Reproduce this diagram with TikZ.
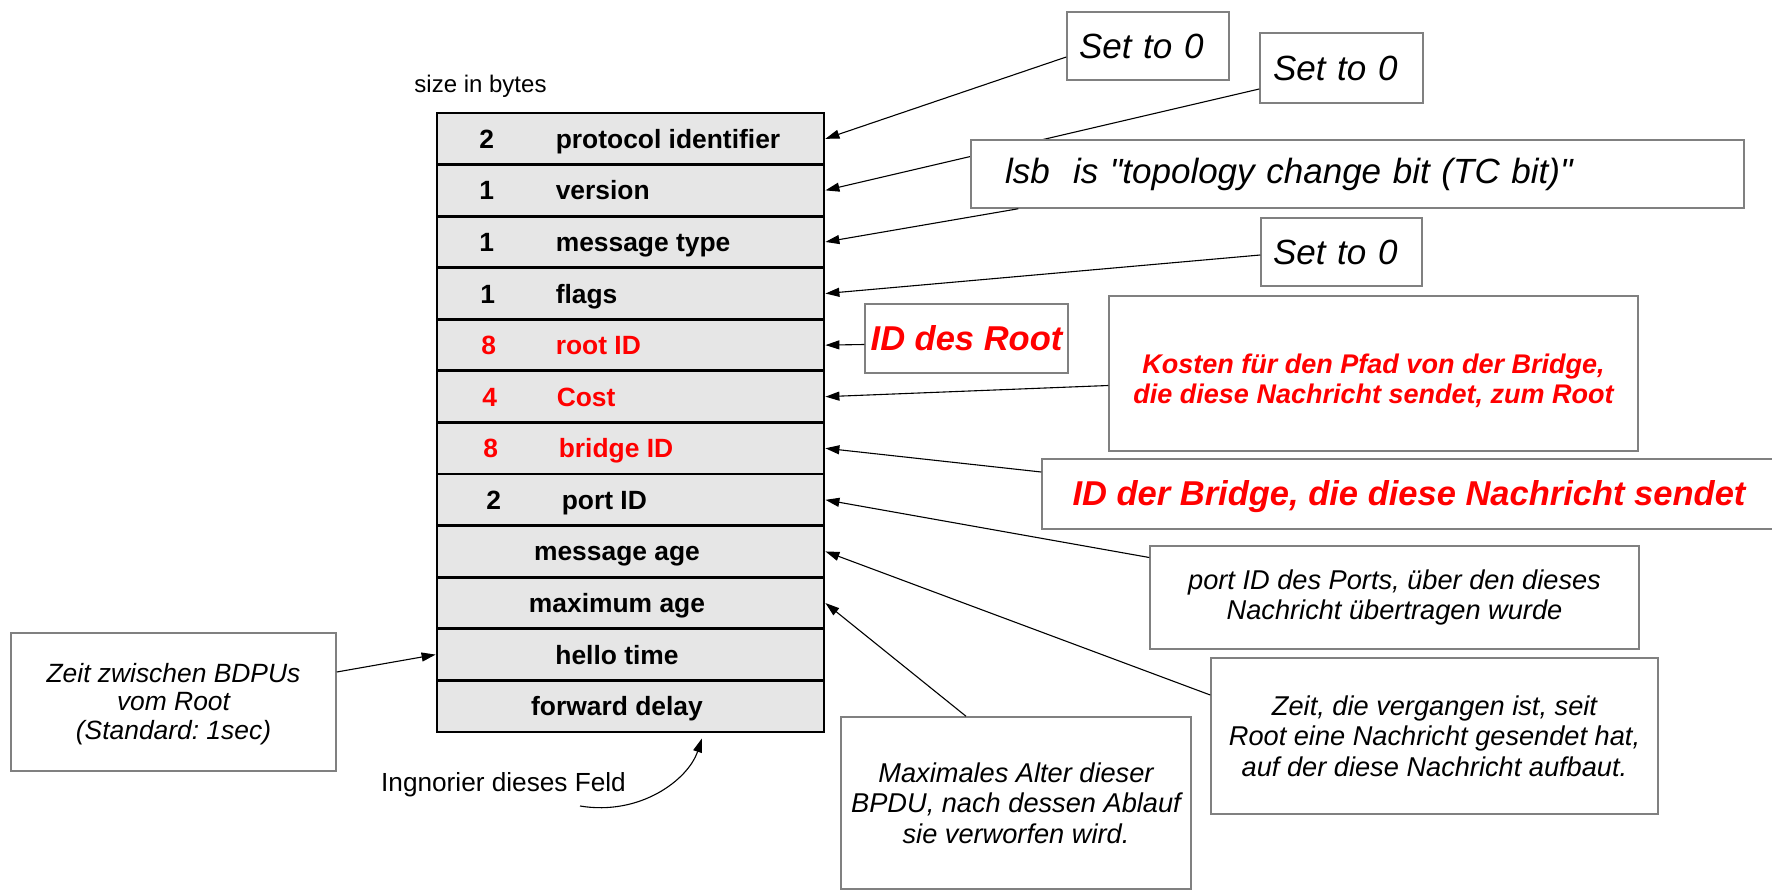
\documentclass[tikz,border=0pt]{standalone}
\usepackage{fontspec}
\setmainfont{Liberation Sans}
\usetikzlibrary{arrows.meta,calc}
\definecolor{fieldgray}{RGB}{230,230,230}
\definecolor{notegray}{RGB}{128,128,128}
\definecolor{hotred}{RGB}{255,0,0}
% straight double quote, bypassing the TeX ligature mapping
\newcommand{\sqq}{{\addfontfeatures{Ligatures=TeXOff}"}}

\begin{document}
\frenchspacing
\begin{tikzpicture}[x=1pt,y=-1pt,
  fld/.style={rectangle,draw=black,line width=2.8pt,fill=fieldgray,
    minimum width=387pt,minimum height=51.6pt,inner sep=0pt},
  ftext/.style={inner sep=0pt,text height=19pt,text depth=0pt,
    font=\fontsize{26.4}{30}\selectfont\bfseries},
  note/.style={rectangle,draw=notegray,line width=1.5pt,fill=white,
    inner sep=0pt,align=center},
  itx/.style={font=\fontsize{27.2}{30.5}\selectfont\itshape},
  big/.style={font=\fontsize{35}{40}\selectfont\itshape},
  redbig/.style={text=hotred,font=\fontsize{34.5}{38}\selectfont\bfseries\itshape},
  link/.style={draw=black,line width=1.1pt,-{Triangle[length=14pt,width=9pt]}},
]
\useasboundingbox (0,0) rectangle (1772,891);

% BPDU field table
\foreach \i in {1,...,12}
  \node[fld] (r\i) at (630.5,{113+51.58*(\i-0.5)}) {};

\node[font=\fontsize{24}{28}\selectfont,inner sep=0pt] (sib) at (480.5,86) {size in bytes};

\node[ftext] (n1) at ([xshift=51pt]r1.west) {2};
\node[ftext,anchor=west] (l1) at ([xshift=120pt]r1.west) {protocol identifier};
\node[ftext] (n2) at ([xshift=51pt]r2.west) {1};
\node[ftext,anchor=west] (l2) at ([xshift=120pt]r2.west) {version};
\node[ftext] (n3) at ([xshift=51pt]r3.west) {1};
\node[ftext,anchor=west] (l3) at ([xshift=120pt]r3.west) {message type};
\node[ftext] (n4) at ([xshift=52pt]r4.west) {1};
\node[ftext,anchor=west] (l4) at ([xshift=120pt]r4.west) {flags};
\node[ftext,text=hotred] (n5) at ([xshift=53pt]r5.west) {8};
\node[ftext,text=hotred,anchor=west] (l5) at ([xshift=120pt]r5.west) {root ID};
\node[ftext,text=hotred] (n6) at ([xshift=54pt]r6.west) {4};
\node[ftext,text=hotred,anchor=west] (l6) at ([xshift=121pt]r6.west) {Cost};
\node[ftext,text=hotred] (n7) at ([xshift=55pt]r7.west) {8};
\node[ftext,text=hotred,anchor=west] (l7) at ([xshift=123pt]r7.west) {bridge ID};
\node[ftext] (n8) at ([xshift=58pt]r8.west) {2};
\node[ftext,anchor=west] (l8) at ([xshift=126pt]r8.west) {port ID};
\node[ftext] (l9) at ([xshift=-13.5pt]r9.center) {message age};
\node[ftext] (l10) at ([xshift=-13.5pt]r10.center) {maximum age};
\node[ftext] (l11) at ([xshift=-13.5pt]r11.center) {hello time};
\node[ftext] (l12) at ([xshift=-13.5pt]r12.center) {forward delay};

% notes at the top
\node[note,big,minimum width=162pt,minimum height=68pt,text width=138pt,align=left]
  (s1) at (1148,46) {Set to 0};
\node[note,big,minimum width=163pt,minimum height=70pt,text width=137pt,align=left]
  (s2) at (1341.5,68) {Set to 0};
\draw[link] ([yshift=-11pt]s1.west) -- (r1.east);
\draw[link] ([yshift=-21pt]s2.west) -- (r2.east);

\node[note,big,minimum width=773pt,minimum height=68pt,text width=705pt,align=left]
  (lsb) at (1357.5,174) {lsb\ \ is \sqq topology change bit (TC bit)\sqq};
\draw[link] ([xshift=48pt]lsb.south west) -- (r3.east);

\node[note,big,minimum width=161pt,minimum height=68pt,text width=137pt,align=left]
  (s3) at (1341.5,252) {Set to 0};
\draw[link] ([yshift=-3pt]s3.west) -- (r4.east);

% identifiers and cost
\node[note,redbig,minimum width=203pt,minimum height=69pt]
  (root) at (966.5,338.5) {ID des Root};
\draw[link] ([yshift=-6pt]root.west) -- (r5.east);

\node[note,minimum width=529pt,minimum height=155pt]
  (cost) at (1373.5,373.5) {};
\node[text=hotred,font=\fontsize{27}{30}\selectfont\bfseries\itshape,align=center,inner sep=0pt]
  (costtext) at ([yshift=-7pt]cost.center) {Kosten für den Pfad von der Bridge,\\die diese Nachricht sendet, zum Root};
\draw[link] ([yshift=-12pt]cost.west) -- (r6.east);

\node[note,minimum width=734pt,minimum height=70pt]
  (bid) at (1409,494) {};
\node[redbig,inner sep=0pt] (bidtext) at ([yshift=-3pt]bid.center) {ID der Bridge, die diese Nachricht sendet};
\draw[link] ([yshift=22pt]bid.west) -- (r7.east);

% timing and port notes
\node[note,itx,minimum width=489pt,minimum height=103pt]
  (port) at (1394.5,597.5) {port ID des Ports, über den dieses\\Nachricht übertragen wurde};
\draw[link] ([yshift=40pt]port.west) -- (r8.east);

\node[note,itx,minimum width=447pt,minimum height=156pt]
  (age) at (1434.5,736) {Zeit, die vergangen ist, seit\\Root eine Nachricht gesendet hat,\\auf der diese Nachricht aufbaut.};
\draw[link] ([yshift=41pt]age.west) -- (r9.east);

\node[note,itx,minimum width=350pt,minimum height=172pt]
  (maxage) at (1016,803) {Maximales Alter dieser\\BPDU, nach dessen Ablauf\\sie verworfen wird.};
\draw[link] ([xshift=-50pt]maxage.north) -- (r10.east);

\node[note,minimum width=325pt,minimum height=138pt]
  (hello) at (173.5,702) {};
\node[font=\fontsize{26.4}{28.5}\selectfont\itshape,align=center,inner sep=0pt]
  (hellotext) at ([yshift=-2pt]hello.center) {Zeit zwischen BDPUs\\vom Root\\(Standard: 1sec)};
\draw[link] ([yshift=30pt]hello.east) -- (r11.west);

% forward delay remark
\node[font=\fontsize{26.2}{30}\selectfont,inner sep=0pt] (ign) at (503.5,785) {Ingnorier dieses Feld};
\coordinate (igA) at (580,806);
\coordinate (igB) at ([xshift=71.5pt,yshift=-5pt]r12.south);
\draw[link] (igA) .. controls (640,816) and (688,780) .. (igB);
\end{tikzpicture}
\end{document}
